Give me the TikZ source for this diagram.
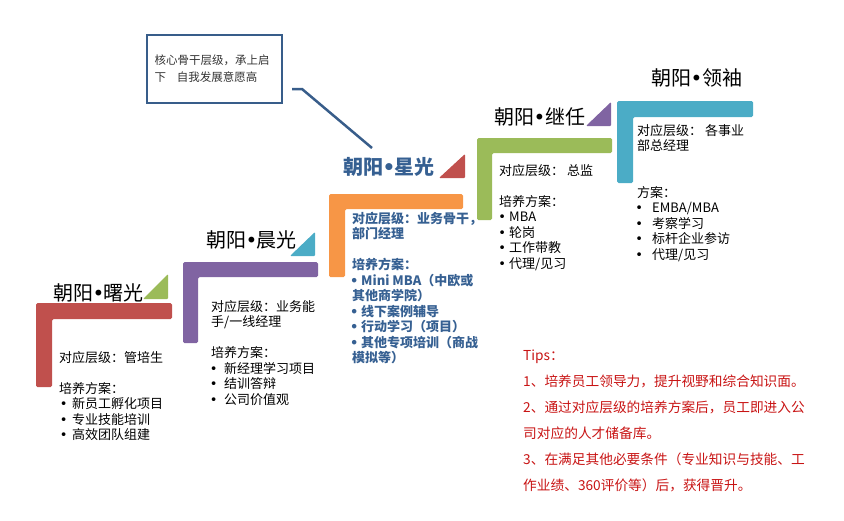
\documentclass[tikz,border=0pt]{standalone}
\usepackage{fontspec}
\setmainfont{Noto Sans CJK SC}
\newfontfamily\dotfont{DejaVu Sans}
\definecolor{stepred}{HTML}{C0504D}
\definecolor{stepgreen}{HTML}{9BBB59}
\definecolor{steppurple}{HTML}{8064A2}
\definecolor{stepblue}{HTML}{4BACC6}
\definecolor{steporange}{HTML}{F79646}
\definecolor{darkblue}{HTML}{366092}
\definecolor{noteblue}{HTML}{385D8A}
\definecolor{tipred}{RGB}{200,20,20}
\newcommand{\bul}[2]{\makebox[#1][c]{\dotfont •}\hspace{#2}}
\newcommand{\titledot}{{\dotfont\kern-0.5pt•\kern-0.5pt}}
\tikzset{
  title/.style={anchor=base west, inner sep=0pt, font=\fontsize{20}{22}\selectfont},
  body/.style={anchor=base west, align=left, inner sep=0pt, font=\fontsize{13}{15.5}\selectfont},
}
\begin{document}
\begin{tikzpicture}[x=1pt, y=-1pt]
        \useasboundingbox (0,0) rectangle (844,520);

        % Draw the steps (L shapes)
        \fill[stepred, rounded corners=1.5pt] (36,303) -- (172,303) -- (172,319) -- (52,319) -- (52,387) -- (36,387) -- cycle;
        \fill[steppurple, rounded corners=1.5pt] (183,262) -- (318,262) -- (318,277) -- (198,277) -- (198,343) -- (183,343) -- cycle;
        \fill[steporange, rounded corners=1.5pt] (329,194) -- (463,194) -- (463,209) -- (345,209) -- (345,277) -- (329,277) -- cycle;
        \fill[stepgreen, rounded corners=1.5pt] (477,138) -- (612,138) -- (612,153) -- (492,153) -- (492,220) -- (477,220) -- cycle;
        \fill[stepblue, rounded corners=1.5pt] (617,101) -- (753,101) -- (753,117) -- (633,117) -- (633,183) -- (617,183) -- cycle;

        % Small triangles next to the titles
        \fill[stepgreen, rounded corners=1pt] (143,299) -- (168,274) -- (168,299) -- cycle;
        \fill[stepblue, rounded corners=1pt] (290,256) -- (315,232) -- (315,256) -- cycle;
        \fill[stepred, rounded corners=1pt] (439,178) -- (465,154) -- (465,178) -- cycle;
        \fill[steppurple, rounded corners=1pt] (586,126) -- (611,102) -- (611,126) -- cycle;

        % Titles
        \node[title] (shuguang) at (53,300) {朝阳\titledot 曙光};
        \node[title] (chenguang) at (206,247) {朝阳\titledot 晨光};
        \node[title, text=darkblue, font=\fontsize{20}{22}\selectfont\bfseries] (xingguang) at (343,174) {朝阳\titledot 星光};
        \node[title] (jiren) at (494,124) {朝阳\titledot 继任};
        \node[title] (lingxiu) at (651,85) {朝阳\titledot 领袖};

        % Texts under each step (anchored at the last line)
        \node[body] (shuguangtxt) at (59,439.5) {对应层级：管培生\\[15.5pt]
          培养方案：\\
          \bul{9pt}{4pt}新员工孵化项目\\
          \bul{9pt}{4pt}专业技能培训\\
          \bul{9pt}{4pt}高效团队组建};
        \node[body] (chenguangtxt) at (211,404) {对应层级：业务能\\
          手/一线经理\\[15.5pt]
          培养方案：\\
          \bul{5pt}{8pt}新经理学习项目\\
          \bul{5pt}{8pt}结训答辩\\
          \bul{5pt}{8pt}公司价值观};
        \node[body, text=darkblue, font=\fontsize{13}{15.5}\selectfont\bfseries] (xingguangtxt) at (352,362.5) {对应层级：业务骨干，\\
          部门经理\\[15.5pt]
          培养方案：\\
          \bul{4pt}{5pt}Mini MBA（中欧或\\
          其他商学院）\\
          \bul{4pt}{5pt}线下案例辅导\\
          \bul{4pt}{5pt}行动学习（项目）\\
          \bul{4pt}{5pt}其他专项培训（商战\\
          模拟等）};
        \node[body] (jirentxt) at (499,268) {对应层级： 总监\\[15.5pt]
          培养方案：\\
          \bul{6pt}{4pt}MBA\\
          \bul{6pt}{4pt}轮岗\\
          \bul{6pt}{4pt}工作带教\\
          \bul{6pt}{4pt}代理/见习};
        \node[body] (lingxiutxt) at (637,259) {对应层级： 各事业\\
          部总经理\\[31pt]
          方案：\\
          \bul{4pt}{11pt}EMBA/MBA\\
          \bul{4pt}{11pt}考察学习\\
          \bul{4pt}{11pt}标杆企业参访\\
          \bul{4pt}{11pt}代理/见习};

        % Callout box and its leader line
        \node[draw=noteblue, line width=2.5pt, minimum width=135pt, minimum height=68pt, text width=120pt, align=left,
              text=black!80, font=\fontsize{11.5}{17}\selectfont] (note) at (214.5,69) {核心骨干层级，承上启\\下\hspace{11pt}自我发展意愿高};
        \coordinate (lead) at (292,89);
        \coordinate (leadend) at (372,148);
        \draw[noteblue, line width=2.5pt] (lead) -- ++(10,0) -- (leadend);

        % Tips
        \node[body, text=tipred, font=\fontsize{13.7}{26}\selectfont] (tips) at (523,490) {Tips：\\
          1、培养员工领导力，提升视野和综合知识面。\\
          2、通过对应层级的培养方案后，员工即进入公\\
          司对应的人才储备库。\\
          3、在满足其他必要条件（专业知识与技能、工\\
          作业绩、360评价等）后，获得晋升。};

\end{tikzpicture}
\end{document}
